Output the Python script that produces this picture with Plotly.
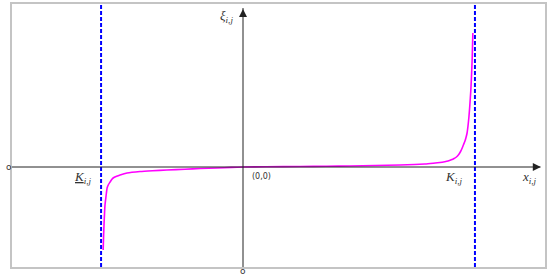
import plotly.graph_objects as go

# Barrier bounds (x units where upper bound = 1)
k_lower = -0.612
k_upper = 1.0

# Curve xi_{i,j}(x_{i,j})
curve_x = [-0.603, -0.601, -0.599, -0.597, -0.595, -0.592, -0.590, -0.586, -0.580, -0.573,
           -0.566, -0.560, -0.545, -0.530, -0.500, -0.444, -0.390, -0.328, -0.250, -0.185,
           -0.112, -0.050, 0.0, 0.100, 0.246, 0.360, 0.461, 0.570, 0.677, 0.740, 0.784,
           0.820, 0.849, 0.870, 0.884, 0.898, 0.910, 0.920, 0.930, 0.938, 0.945, 0.951,
           0.957, 0.962, 0.966, 0.970, 0.974, 0.978, 0.982, 0.985, 0.988, 0.991]
curve_y = [-0.83, -0.68, -0.56, -0.46, -0.38, -0.32, -0.28, -0.21, -0.175, -0.15,
           -0.125, -0.11, -0.093, -0.08, -0.06, -0.045, -0.037, -0.03, -0.022, -0.015,
           -0.01, -0.004, 0.0, 0.002, 0.005, 0.008, 0.01, 0.015, 0.02, 0.025, 0.03,
           0.038, 0.045, 0.053, 0.06, 0.072, 0.085, 0.10, 0.125, 0.155, 0.19, 0.225,
           0.26, 0.30, 0.34, 0.41, 0.5, 0.62, 0.76, 0.9, 1.08, 1.34]

x_range = [-0.996, 1.302]
y_range = [-1.00, 1.63]

fig = go.Figure()
fig.add_trace(go.Scatter(x=curve_x, y=curve_y, mode="lines",
                         line=dict(color="#ff00ff", width=1.6, shape="spline", smoothing=0.4),
                         hoverinfo="skip"))

for k in (k_lower, k_upper):
    fig.add_shape(type="line", xref="x", yref="paper", x0=k, x1=k, y0=0, y1=1,
                  line=dict(color="#0000ff", width=2, dash="4px,2px"))

# coordinate axes with arrowheads
fig.add_shape(type="line", xref="x", yref="y", x0=x_range[0], x1=x_range[1] - 0.02,
              y0=0, y1=0, line=dict(color="#222", width=1))
fig.add_shape(type="line", xref="x", yref="y", x0=0, x1=0, y0=y_range[0],
              y1=y_range[1] - 0.04, line=dict(color="#222", width=1))
fig.add_trace(go.Scatter(x=[x_range[1] - 0.018], y=[0], mode="markers", cliponaxis=False,
                         marker=dict(symbol="arrow-right", size=8, color="#222",
                                     line=dict(width=0)), hoverinfo="skip"))
fig.add_trace(go.Scatter(x=[0], y=[y_range[1] - 0.05], mode="markers", cliponaxis=False,
                         marker=dict(symbol="arrow-up", size=8, color="#222",
                                     line=dict(width=0)), hoverinfo="skip"))

serif = "Liberation Serif, DejaVu Serif, serif"
sans = "DejaVu Sans, Arial, sans-serif"
lab = "#333"
texts = [
    dict(x=-0.694, y=-0.10, text="<u><i>K</i></u><sub><i>i,j</i></sub>", font=dict(family=serif, size=13, color=lab)),
    dict(x=0.907, y=-0.10, text="<i>K</i><sub><i>i,j</i></sub>", font=dict(family=serif, size=13, color=lab)),
    dict(x=1.235, y=-0.10, text="<i>x</i><sub><i>i,j</i></sub>", font=dict(family=serif, size=13, color=lab)),
    dict(x=-0.07, y=1.51, text="<i>ξ</i><sub><i>i,j</i></sub>", font=dict(family=serif, size=13, color=lab)),
    dict(x=0.08, y=-0.09, text="(0,0)", font=dict(family=sans, size=8, color=lab)),
]
for t in texts:
    fig.add_annotation(xref="x", yref="y", showarrow=False, **t)

fig.add_annotation(x=-8 / 533, y=0, xref="paper", yref="y", text="o",
                   showarrow=False, font=dict(family=sans, size=9, color=lab))
fig.add_annotation(x=0, y=-4 / 263, xref="x", yref="paper", text="o", yanchor="middle",
                   showarrow=False, borderpad=0, font=dict(family=sans, size=9, color=lab))

fig.update_xaxes(range=x_range, showgrid=False, zeroline=False, showticklabels=False,
                 ticks="", showline=True, mirror=True, linecolor="#c4c4c4", linewidth=1.5,
                 automargin=False)
fig.update_yaxes(range=y_range, showgrid=False, zeroline=False, showticklabels=False,
                 ticks="", showline=True, mirror=True, linecolor="#c4c4c4", linewidth=1.5,
                 automargin=False)
fig.update_layout(template="none", width=550, height=278,
                  margin=dict(l=12, r=5, t=4, b=11, autoexpand=False),
                  paper_bgcolor="white", plot_bgcolor="white", showlegend=False)
fig.write_html("out.html", config={"displayModeBar": False},
               post_script="document.body.style.margin='0';")
